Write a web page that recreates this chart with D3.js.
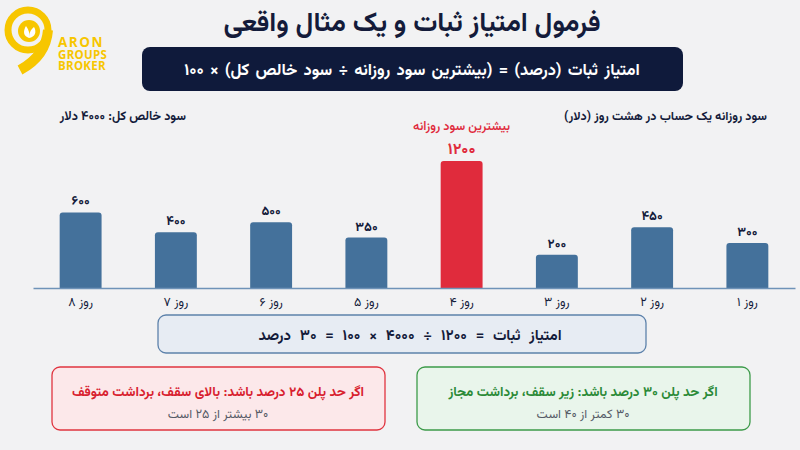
<!DOCTYPE html>
<html>
<head>
<meta charset="utf-8">
<script src="https://cdn.jsdelivr.net/npm/d3@7"></script>
<style>
  body { margin: 0; background: #f2f2f3; }
  svg { display: block; font-family: Vazirmatn, "DejaVu Sans", sans-serif; }
</style>
</head>
<body>
<script>
// data
var days = ["روز ۱", "روز ۲", "روز ۳", "روز ۴", "روز ۵", "روز ۶", "روز ۷", "روز ۸"];
var profits = [300, 450, 200, 1200, 350, 500, 400, 600];
var totalProfit = 4000;
var bestLabel = "بیشترین سود روزانه";

var title = "فرمول امتیاز ثبات و یک مثال واقعی";
var formula = "امتیاز ثبات (درصد) = (بیشترین سود روزانه ÷ سود خالص کل) × ۱۰۰";
var chartTitle = "سود روزانه یک حساب در هشت روز (دلار)";
var totalText = "سود خالص کل: ۴۰۰۰ دلار";
var resultText = "امتیاز ثبات = ۱۲۰۰ ÷ ۴۰۰۰ × ۱۰۰ = ۳۰ درصد";
var redTitle = "اگر حد پلن ۲۵ درصد باشد: بالای سقف، برداشت متوقف";
var redSub = "۳۰ بیشتر از ۲۵ است";
var greenTitle = "اگر حد پلن ۳۰ درصد باشد: زیر سقف، برداشت مجاز";
var greenSub = "۳۰ کمتر از ۴۰ است";

var width = 800, height = 450;
var dark = "#141b3a";

function fa(n) {
  return String(n).replace(/[0-9]/g, function(c) { return "۰۱۲۳۴۵۶۷۸۹"[+c]; });
}

var svg = d3.select("body").append("svg")
    .attr("width", width)
    .attr("height", height);

svg.append("rect").attr("width", width).attr("height", height).attr("fill", "#f2f2f3");

// logo
var logo = svg.append("g").attr("fill", "none").attr("stroke", "#f7c600");
logo.append("circle").attr("cx", 28).attr("cy", 30).attr("r", 20).attr("stroke-width", 7);
logo.append("path").attr("d", "M48,30 Q46,56 20,70").attr("stroke-width", 10).attr("stroke-linecap", "butt");
logo.append("circle").attr("cx", 29).attr("cy", 31).attr("r", 11).attr("fill", "#f7c600").attr("stroke", "none");
logo.append("path").attr("d", "M29,38 C23,36 23,31 26,26 C29,30 30,34 29,38 Z").attr("fill", "#fff").attr("stroke", "none");
logo.append("path").attr("d", "M29,38 C35,37 37,32 34,27 C30,30 29,34 29,38 Z").attr("fill", "#fff").attr("stroke", "none");

// one text element, three lines
var logoText = svg.append("text")
    .attr("fill", "#f7c600")
    .style("font-family", "'Open Sans', sans-serif")
    .style("font-weight", "700");
[["ARON", 47, 13.5, 1.5], ["GROUPS", 59, 11.5, 0.3], ["BROKER", 70, 11.5, 0.3]].forEach(function(t) {
  logoText.append("tspan")
      .attr("x", 58).attr("y", t[1])
      .style("font-size", t[2] + "px")
      .style("letter-spacing", t[3] + "px")
      .text(t[0]);
});

// title
svg.append("text")
    .attr("x", 412).attr("y", 31)
    .attr("direction", "rtl")
    .attr("text-anchor", "middle")
    .attr("fill", dark)
    .style("font-size", "27px").style("font-weight", "700")
    .text(title);

// formula banner
svg.append("rect")
    .attr("x", 142).attr("y", 47).attr("width", 541).attr("height", 44)
    .attr("rx", 8).attr("fill", "#0f1a3b");
svg.append("text")
    .attr("x", 412).attr("y", 75)
    .attr("direction", "rtl")
    .attr("text-anchor", "middle")
    .attr("fill", "#fff")
    .style("font-size", "16.5px").style("font-weight", "700")
    .style("word-spacing", "2px")
    .text(formula);

// chart
var x = d3.scaleBand()
    .domain(days)
    .range([795, 33])
    .paddingInner(0.56)
    .paddingOuter(0.28);

var y = d3.scalePow().exponent(0.75)
    .domain([0, 1200])
    .range([288, 161]);

var maxVal = d3.max(profits);

svg.append("text")
    .attr("x", 767).attr("y", 120)
    .attr("direction", "rtl")
    .attr("text-anchor", "start")
    .attr("fill", dark)
    .style("font-size", "12.4px").style("font-weight", "700")
    .text(chartTitle);

svg.append("text")
    .attr("x", 186).attr("y", 120)
    .attr("direction", "rtl")
    .attr("text-anchor", "start")
    .attr("fill", dark)
    .style("font-size", "12.5px").style("font-weight", "700")
    .text(totalText);

function barPath(d, i) {
  var x0 = x(days[i]), w = x.bandwidth(), y0 = y(d), b = y(0), r = 3;
  return "M" + x0 + "," + b + "V" + (y0 + r) + "Q" + x0 + "," + y0 + " " + (x0 + r) + "," + y0 +
    "H" + (x0 + w - r) + "Q" + (x0 + w) + "," + y0 + " " + (x0 + w) + "," + (y0 + r) + "V" + b + "Z";
}

svg.selectAll(".bar")
    .data(profits)
    .enter().append("path")
    .attr("class", "bar")
    .attr("d", barPath)
    .attr("fill", function(d) { return d == maxVal ? "#e02b3c" : "#44719b"; });

svg.selectAll(".val")
    .data(profits)
    .enter().append("text")
    .attr("class", "val")
    .attr("x", function(d, i) { return x(days[i]) + x.bandwidth() / 2; })
    .attr("y", function(d) { return y(d) - 7; })
    .attr("text-anchor", "middle")
    .attr("fill", function(d) { return d == maxVal ? "#e02b3c" : dark; })
    .style("font-size", function(d) { return d == maxVal ? "16px" : "13px"; })
    .style("font-weight", "700")
    .text(function(d) { return fa(d); });

var bestIdx = profits.indexOf(maxVal);
svg.append("text")
    .attr("x", x(days[bestIdx]) + x.bandwidth() / 2)
    .attr("y", y(maxVal) - 31)
    .attr("direction", "rtl")
    .attr("text-anchor", "middle")
    .attr("fill", "#e02b3c")
    .style("font-size", "12.5px")
    .style("font-weight", "600")
    .text(bestLabel);

// axis
var xAxis = svg.append("g")
    .attr("transform", "translate(0,288)")
    .call(d3.axisBottom(x).tickSize(0).tickPadding(9));
xAxis.select(".domain").attr("stroke", "#6f93b8").attr("stroke-width", 1.5);
xAxis.selectAll("text")
    .attr("direction", "rtl")
    .attr("fill", dark)
    .style("font-family", "Vazirmatn, 'DejaVu Sans', sans-serif")
    .style("font-size", "12.5px");

// result box
svg.append("rect")
    .attr("x", 158).attr("y", 315).attr("width", 488).attr("height", 38)
    .attr("rx", 8).attr("fill", "#e7ecf3").attr("stroke", "#5d82ab").attr("stroke-width", 1.3);
svg.append("text")
    .attr("x", 410).attr("y", 340)
    .attr("direction", "rtl")
    .attr("text-anchor", "middle")
    .attr("fill", dark)
    .style("font-size", "15px").style("font-weight", "700")
    .style("word-spacing", "5px")
    .text(resultText);

// condition boxes
var boxes = [
  { x: 52, fill: "#fce8ea", stroke: "#e0343f", color: "#d8202e", t: redTitle, s: redSub },
  { x: 417, fill: "#e9f5eb", stroke: "#3d9b4a", color: "#2b8a37", t: greenTitle, s: greenSub }
];
boxes.forEach(function(b) {
  svg.append("rect")
      .attr("x", b.x).attr("y", 367).attr("width", 333).attr("height", 63)
      .attr("rx", 8).attr("fill", b.fill).attr("stroke", b.stroke).attr("stroke-width", 1.3);
  svg.append("text")
      .attr("x", b.x + 166).attr("y", 396)
      .attr("direction", "rtl")
      .attr("text-anchor", "middle")
      .attr("fill", b.color)
      .style("font-size", "13.4px").style("font-weight", "700")
      .text(b.t);
  svg.append("text")
      .attr("x", b.x + 166).attr("y", 418)
      .attr("direction", "rtl")
      .attr("text-anchor", "middle")
      .attr("fill", "#555a66")
      .style("font-size", "12.5px")
      .text(b.s);
});
</script>
</body>
</html>
